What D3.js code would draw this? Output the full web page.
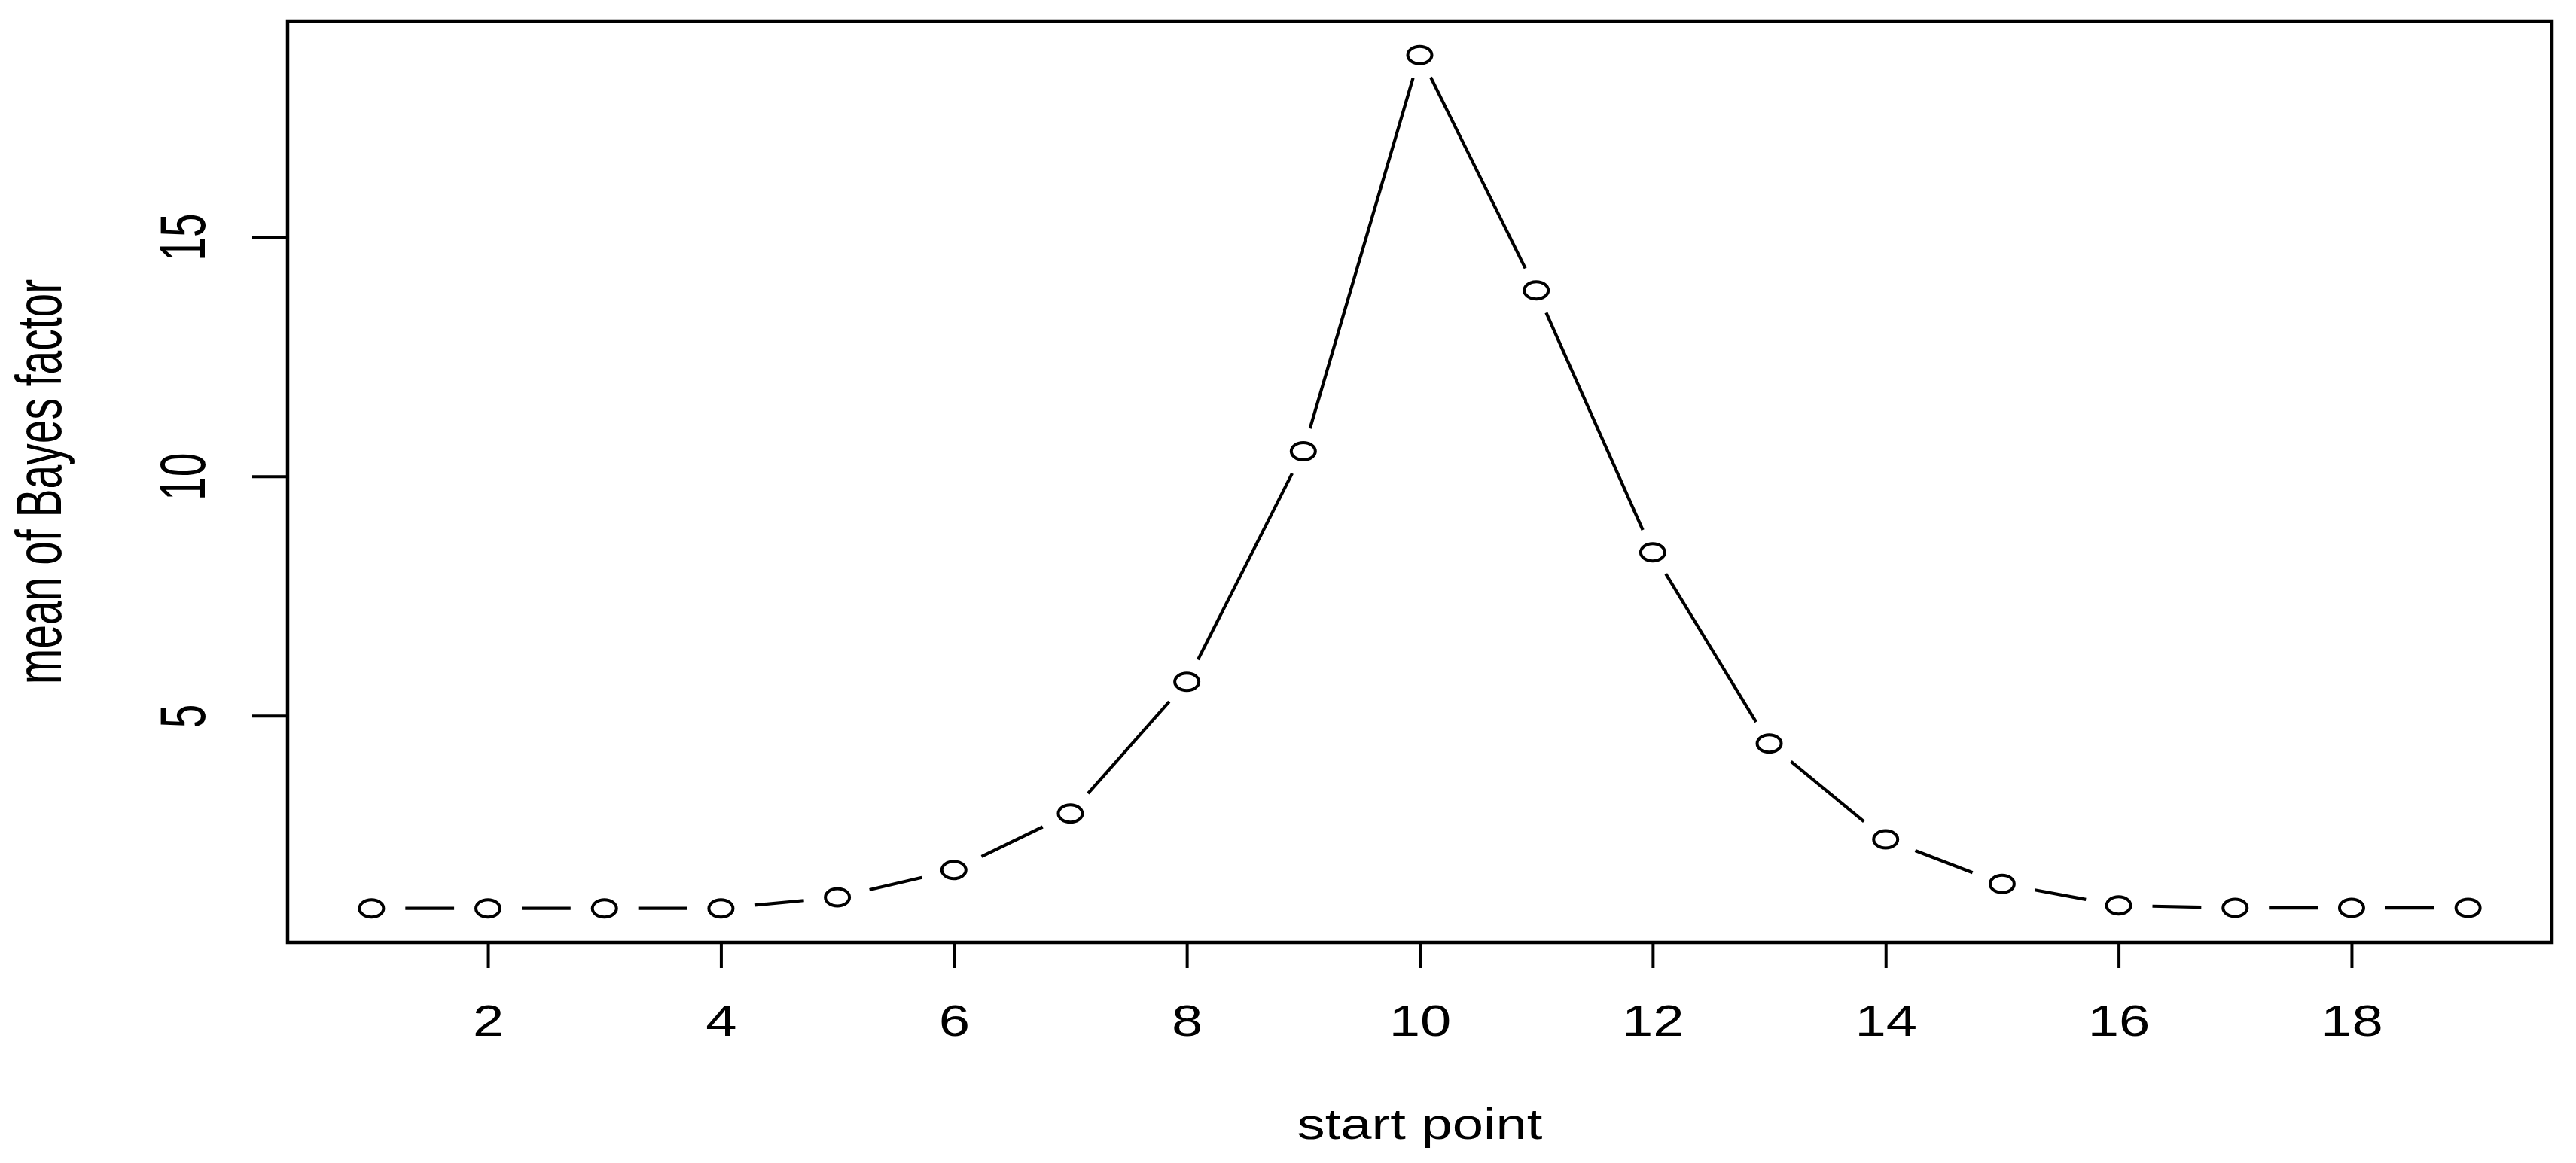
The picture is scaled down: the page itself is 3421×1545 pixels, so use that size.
<!DOCTYPE html>
<html>
<head>
<meta charset="utf-8">
<script src="https://cdn.jsdelivr.net/npm/d3@7.9.0/dist/d3.min.js"></script>
<style>
  html, body { margin: 0; padding: 0; background: #fff; }
  svg { display: block; }
  text { font-family: "Liberation Sans", Arial, sans-serif; fill: #000; }
</style>
</head>
<body>
<svg id="chart"></svg>
<script>
const startPoints = d3.range(1, 20);
const bayesMeans = [0.98, 0.98, 0.98, 0.98, 1.21, 1.78, 2.96, 5.71, 10.52, 18.79,
                    13.88, 8.41, 4.42, 2.42, 1.49, 1.04, 0.99, 0.99, 0.99];
const xTicks = [2, 4, 6, 8, 10, 12, 14, 16, 18];
const yTicks = [5, 10, 15];

const data = startPoints.map((s, i) => ({ x: s, y: bayesMeans[i] }));

const width = 3421, height = 1545;
// the picture is stretched sideways, R-style
const stretch = 1.45;
const box = { left: 382, right: 3389, top: 28, bottom: 1252 };

const svg = d3.select('#chart').attr('width', width).attr('height', height);

// R pads each axis range by 4%
function padded(ext) {
  const r = ext[1] - ext[0];
  return [ext[0] - 0.04 * r, ext[1] + 0.04 * r];
}

const x = d3.scaleLinear().domain(padded(d3.extent(startPoints))).range([box.left, box.right]);
const y = d3.scaleLinear().domain(padded(d3.extent(bayesMeans))).range([box.bottom, box.top]);

// line segments with gaps around points (type = "b")
const gap = 31;
const segs = [];
for (let i = 0; i < data.length - 1; i++) {
  const x0 = x(data[i].x), y0 = y(data[i].y);
  const x1 = x(data[i + 1].x), y1 = y(data[i + 1].y);
  const len = Math.hypot((x1 - x0) / stretch, y1 - y0);
  if (len <= 2 * gap) continue;
  const t = gap / len;
  segs.push([x0 + (x1 - x0) * t, y0 + (y1 - y0) * t, x1 - (x1 - x0) * t, y1 - (y1 - y0) * t]);
}

svg.append('g').selectAll('line')
  .data(segs)
  .join('line')
  .attr('x1', d => d[0]).attr('y1', d => d[1])
  .attr('x2', d => d[2]).attr('y2', d => d[3])
  .attr('stroke', '#000')
  .attr('stroke-width', 4.2);

svg.append('g').selectAll('ellipse')
  .data(data)
  .join('ellipse')
  .attr('cx', d => x(d.x))
  .attr('cy', d => y(d.y))
  .attr('rx', 16)
  .attr('ry', 11.5)
  .attr('fill', 'none')
  .attr('stroke', '#000')
  .attr('stroke-width', 4);

// plot box
svg.append('rect')
  .attr('x', box.left).attr('y', box.top)
  .attr('width', box.right - box.left).attr('height', box.bottom - box.top)
  .attr('fill', 'none')
  .attr('stroke', '#000')
  .attr('stroke-width', 4.5);

// x axis
const xAxis = svg.append('g')
  .attr('transform', `translate(0,${box.bottom})`)
  .call(d3.axisBottom(x).tickValues(xTicks).tickSize(34).tickFormat(d3.format('d')));
xAxis.select('.domain').remove();
xAxis.selectAll('.tick line').attr('stroke', '#000').attr('stroke-width', 4);
xAxis.selectAll('.tick text')
  .attr('y', null).attr('dy', null)
  .attr('fill', '#000')
  .attr('font-size', 58)
  .attr('text-anchor', 'middle')
  .attr('transform', `translate(0,${1376 - box.bottom}) scale(1.28,1)`);

// y axis
const yAxis = svg.append('g')
  .attr('transform', `translate(${box.left},0)`)
  .call(d3.axisLeft(y).tickValues(yTicks).tickSize(48).tickFormat(d3.format('d')));
yAxis.select('.domain').remove();
yAxis.selectAll('.tick line').attr('stroke', '#000').attr('stroke-width', 4);
yAxis.selectAll('.tick text')
  .attr('x', null).attr('dy', null)
  .attr('fill', '#000')
  .attr('font-size', 57)
  .attr('text-anchor', 'middle')
  .attr('transform', `translate(${272 - box.left},0) scale(1.5,1) rotate(-90)`);

// axis titles
svg.append('text')
  .attr('font-size', 58)
  .attr('text-anchor', 'middle')
  .attr('transform', `translate(${(box.left + box.right) / 2},1513) scale(1.28,1)`)
  .text('start point');

svg.append('text')
  .attr('font-size', 57)
  .attr('text-anchor', 'middle')
  .attr('transform', `translate(81,${(box.top + box.bottom) / 2}) scale(1.5,1) rotate(-90)`)
  .text('mean of Bayes factor');
</script>
</body>
</html>
